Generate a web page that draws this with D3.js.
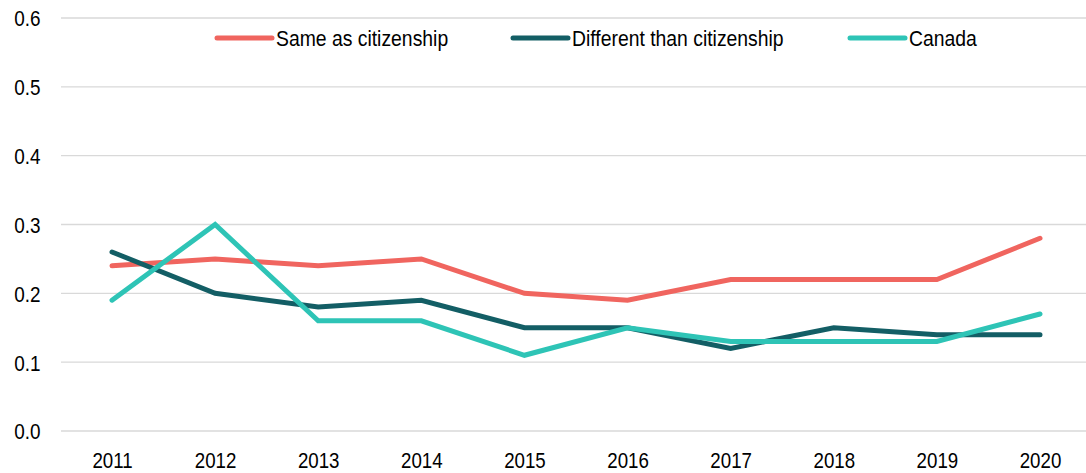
<!DOCTYPE html>
<html>
<head>
<meta charset="utf-8">
<script src="https://cdn.jsdelivr.net/npm/d3@7"></script>
<style>
  body { margin: 0; background: #fff; }
  svg text { font-family: "Liberation Sans", Arial, sans-serif; fill: #000; }
</style>
</head>
<body>
<svg></svg>
<script>
// chart data
var years = ["2011", "2012", "2013", "2014", "2015", "2016", "2017", "2018", "2019", "2020"];
var sameAsCitizenship = [0.24, 0.25, 0.24, 0.25, 0.20, 0.19, 0.22, 0.22, 0.22, 0.28];
var differentThanCitizenship = [0.26, 0.20, 0.18, 0.19, 0.15, 0.15, 0.12, 0.15, 0.14, 0.14];
var canada = [0.19, 0.30, 0.16, 0.16, 0.11, 0.15, 0.13, 0.13, 0.13, 0.17];
var yTicks = [0, 0.1, 0.2, 0.3, 0.4, 0.5, 0.6];
var seriesNames = ["Same as citizenship", "Different than citizenship", "Canada"];

var series = [
  { name: seriesNames[0], values: sameAsCitizenship, color: "#f0655f" },
  { name: seriesNames[1], values: differentThanCitizenship, color: "#135e65" },
  { name: seriesNames[2], values: canada, color: "#2ec4b6" }
];

var width = 1086, height = 473;
var fontSize = 22;
var svg = d3.select("svg").attr("width", width).attr("height", height);

var x = d3.scalePoint().domain(years).range([112, 1040]);
var y = d3.scaleLinear().domain([0, 0.6]).range([431, 18]);

// gridlines
svg.append("g").selectAll("line")
  .data(yTicks)
  .enter().append("line")
  .attr("x1", 61).attr("x2", 1086)
  .attr("y1", function (d) { return y(d); })
  .attr("y2", function (d) { return y(d); })
  .attr("stroke", "#d9d9d9").attr("stroke-width", 1.3);

// y axis
var yAxis = svg.append("g")
  .attr("transform", "translate(43,0)")
  .call(d3.axisLeft(y).tickValues(yTicks).tickFormat(d3.format(".1f")).tickSize(0));
yAxis.select(".domain").remove();
yAxis.selectAll("text")
  .attr("font-size", fontSize)
  .attr("dy", "0.36em")
  .attr("transform", "scale(0.86,1)");

// x axis
var xAxis = svg.append("g")
  .attr("transform", "translate(0,449)")
  .call(d3.axisBottom(x).tickSize(0));
xAxis.select(".domain").remove();
xAxis.selectAll("text")
  .attr("font-size", fontSize)
  .attr("dy", "0.71em")
  .attr("transform", "scale(0.85,1)");

// lines
var line = d3.line()
  .x(function (d, i) { return x(years[i]); })
  .y(function (d) { return y(d); });

svg.append("g").selectAll("path")
  .data(series)
  .enter().append("path")
  .attr("d", function (d) { return line(d.values); })
  .attr("fill", "none")
  .attr("stroke", function (d) { return d.color; })
  .attr("stroke-width", 5)
  .attr("stroke-linecap", "round")
  .attr("stroke-linejoin", "miter");

// legend
var legendX = [217, 513, 850];
var legend = svg.append("g").selectAll("g")
  .data(series)
  .enter().append("g")
  .attr("transform", function (d, i) { return "translate(" + legendX[i] + ",38)"; });
legend.append("line")
  .attr("x1", 0).attr("x2", 55)
  .attr("stroke", function (d) { return d.color; })
  .attr("stroke-width", 5)
  .attr("stroke-linecap", "round");
legend.append("text")
  .attr("transform", "translate(59,0) scale(0.88,1)")
  .attr("dy", "0.36em")
  .attr("font-size", fontSize)
  .text(function (d) { return d.name; });
</script>
</body>
</html>
